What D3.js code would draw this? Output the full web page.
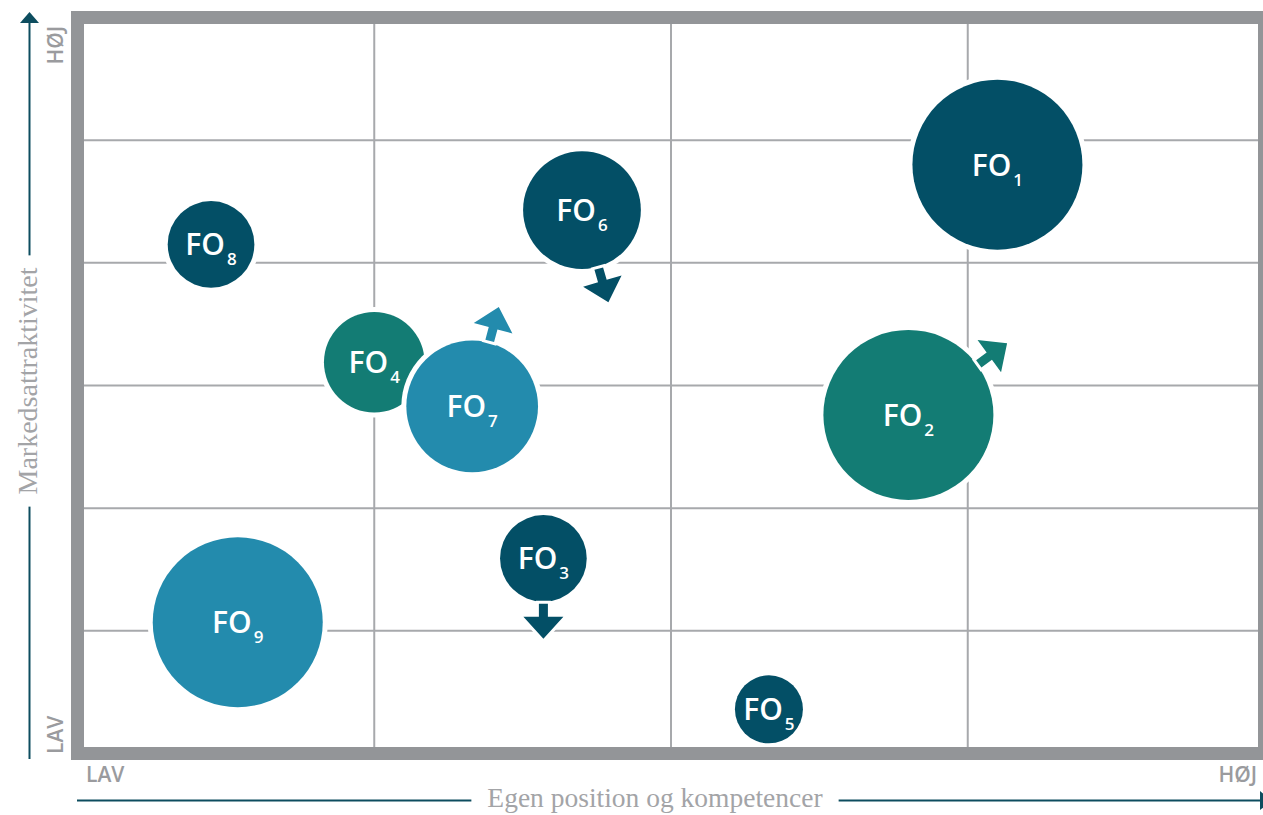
<!DOCTYPE html>
<html>
<head>
<meta charset="utf-8">
<script src="https://cdn.jsdelivr.net/npm/d3@7"></script>
<style>
  html, body { margin: 0; padding: 0; background: #fff; overflow: hidden; }
  svg { display: block; }
</style>
</head>
<body>
<svg id="chart" width="1263" height="815"></svg>
<script>
// bubble data: label, subscript, position (x = egen position, y = markedsattraktivitet), size, colour group
const names   = ["FO", "FO", "FO", "FO", "FO", "FO", "FO", "FO", "FO"];
const subs    = ["4", "7", "8", "6", "1", "2", "3", "5", "9"];
const xVals   = [1.00, 1.33, 0.45, 1.70, 3.10, 2.80, 1.57, 2.33, 0.54];
const yVals   = [3.19, 2.83, 4.15, 4.43, 4.80, 2.76, 1.59, 0.36, 1.07];
const sizes   = [35, 60, 26, 48, 100, 100, 26, 16, 100];
const groups  = ["green", "blue", "dark", "dark", "dark", "green", "dark", "dark", "blue"];

// arrows: which bubble, direction in degrees (clockwise from up)
const arrowSubs   = ["7", "6", "2", "3"];
const arrowAngles = [15, 164, 54, 180];

const xTicks = [1, 2, 3];
const yTicks = [1, 2, 3, 4, 5];
const lowLabel = "LAV";
const highLabel = "HØJ";
const xTitle = "Egen position og kompetencer";
const yTitle = "Markedsattraktivitet";

const palette = { dark: "#034f66", green: "#137c74", blue: "#238bad" };
const frameColor = "#939598";
const gridColor = "#a7a9ac";
const labelGrey = "#9a9b9e";
const axisLine = "#0d4d5f";

const svg = d3.select("#chart");

const x = d3.scaleLinear().domain([0, 4]).range([77.5, 1264.5]);
const y = d3.scaleLinear().domain([0, 6]).range([753.5, 17.5]);
const r = d3.scaleSqrt().domain([0, 100]).range([0, 85]);

// grid
svg.append("g").selectAll("line").data(xTicks).join("line")
  .attr("x1", d => x(d)).attr("x2", d => x(d))
  .attr("y1", y(0)).attr("y2", y(6))
  .attr("stroke", gridColor).attr("stroke-width", 2);
svg.append("g").selectAll("line").data(yTicks).join("line")
  .attr("y1", d => y(d)).attr("y2", d => y(d))
  .attr("x1", x(0)).attr("x2", x(4))
  .attr("stroke", gridColor).attr("stroke-width", 2);

// bubbles
const bubbles = names.map((n, i) => ({
  name: n, sub: subs[i], x: xVals[i], y: yVals[i], size: sizes[i], color: palette[groups[i]]
}));

function arrowPath(rad) {
  // pointing up (negative y) from the bubble edge
  const start = rad + 2, len = 35, head = 22, halfHead = 20, halfShaft = 4.5;
  const b = start + len - head, tip = start + len;
  return `M${-halfShaft},${-start} L${-halfShaft},${-b} L${-halfHead},${-b} L0,${-tip} ` +
         `L${halfHead},${-b} L${halfShaft},${-b} L${halfShaft},${-start} Z`;
}

const g = svg.append("g");
bubbles.forEach(b => {
  const cx = x(b.x), cy = y(b.y), rad = r(b.size);
  const bg = g.append("g").attr("transform", `translate(${cx},${cy})`);
  bg.append("circle").attr("r", rad + 5).attr("fill", "#fff");
  bg.append("circle").attr("r", rad).attr("fill", b.color);

  const ai = arrowSubs.indexOf(b.sub);
  if (ai >= 0) {
    const ag = bg.append("g").attr("transform", `rotate(${arrowAngles[ai]})`);
    ag.append("path").attr("d", arrowPath(rad))
      .attr("fill", "#fff").attr("stroke", "#fff").attr("stroke-width", 6)
      .attr("stroke-linejoin", "miter");
    ag.append("path").attr("d", arrowPath(rad)).attr("fill", b.color);
  }

  const t = bg.append("text")
    .attr("text-anchor", "middle")
    .attr("y", 11)
    .attr("fill", "#fff")
    .style("font-family", "'Open Sans', sans-serif")
    .style("font-weight", 600);
  t.append("tspan").attr("font-size", 30).text(b.name);
  t.append("tspan").attr("font-size", 17).attr("dx", 2).attr("dy", 10).text(b.sub);
});

// frame
svg.append("rect")
  .attr("x", x(0)).attr("y", y(6))
  .attr("width", x(4) - x(0)).attr("height", y(0) - y(6))
  .attr("fill", "none").attr("stroke", frameColor).attr("stroke-width", 13);

// LAV / HØJ labels
const lab = (sel) => sel.attr("fill", labelGrey)
  .style("font-family", "'Open Sans', sans-serif")
  .style("font-weight", 600).style("font-size", "21px");

lab(svg.append("text").attr("x", 86).attr("y", 782).text(lowLabel));
lab(svg.append("text").attr("x", 1257).attr("y", 782).attr("text-anchor", "end").text(highLabel));
lab(svg.append("text").attr("transform", "translate(63,754) rotate(-90)").text(lowLabel));
lab(svg.append("text").attr("transform", "translate(63,26) rotate(-90)").attr("text-anchor", "end").text(highLabel));

// axis titles with broken arrow lines
const titleStyle = (sel, fs) => sel.attr("fill", "#a3a4a7")
  .style("font-family", "'Liberation Serif', serif").style("font-size", fs + "px");

const xt = titleStyle(svg.append("text").attr("x", 655).attr("y", 807)
  .attr("text-anchor", "middle").text(xTitle), 27.5);
const xb = xt.node().getBBox();
const ly = 800.5;
svg.append("line").attr("x1", 77).attr("x2", xb.x - 16).attr("y1", ly).attr("y2", ly)
  .attr("stroke", axisLine).attr("stroke-width", 2);
svg.append("line").attr("x1", xb.x + xb.width + 16).attr("x2", 1262).attr("y1", ly).attr("y2", ly)
  .attr("stroke", axisLine).attr("stroke-width", 2);
svg.append("path").attr("d", `M1260,${ly - 9.5} L1272,${ly} L1260,${ly + 9.5} Z`).attr("fill", axisLine);

const ytCx = 37, ytCy = 381;
const yt = titleStyle(svg.append("text").attr("transform", `translate(${ytCx},${ytCy}) rotate(-90)`)
  .attr("text-anchor", "middle").text(yTitle), 28);
const yw = yt.node().getBBox().width;
const lx = 29.5;
svg.append("line").attr("x1", lx).attr("x2", lx).attr("y1", 759).attr("y2", ytCy + yw / 2 + 12)
  .attr("stroke", axisLine).attr("stroke-width", 2);
svg.append("line").attr("x1", lx).attr("x2", lx).attr("y1", ytCy - yw / 2 - 12).attr("y2", 22)
  .attr("stroke", axisLine).attr("stroke-width", 2);
svg.append("path").attr("d", `M${lx - 9.5},23 L${lx},12 L${lx + 9.5},23 Z`).attr("fill", axisLine);
</script>
</body>
</html>
